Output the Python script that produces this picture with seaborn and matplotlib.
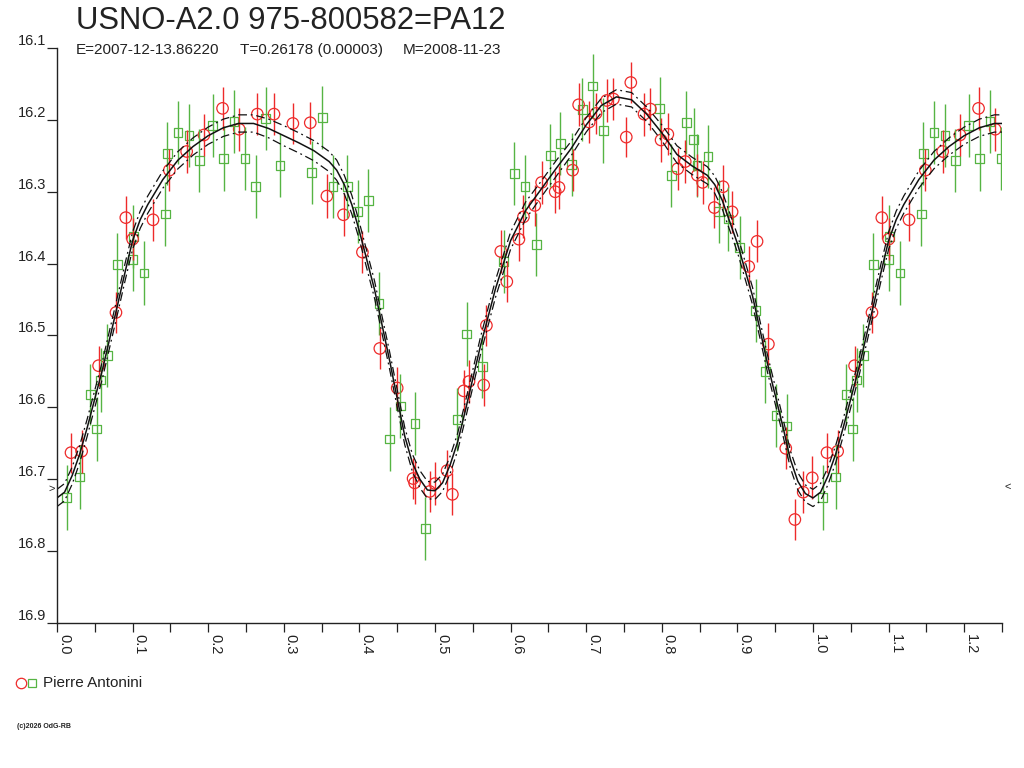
import numpy as np
import pandas as pd
import seaborn as sns
import matplotlib.pyplot as plt
from matplotlib.markers import MarkerStyle
from matplotlib.lines import Line2D
from matplotlib.ticker import MultipleLocator, FuncFormatter

RED = '#ee2a2a'
GREEN = '#56b443'
INK = '#222222'

title = 'USNO-A2.0 975-800582=PA12'
info = ['E=2007-12-13.86220', 'T=0.26178 (0.00003)', 'M=2008-11-23']
observer = 'Pierre Antonini'

# observations, phase 0..1 (red circles)
red_phase = [0.0185, 0.0326, 0.055, 0.078, 0.091, 0.100, 0.127, 0.1486, 0.1715, 0.1944,
             0.219, 0.241, 0.265, 0.287, 0.312, 0.335, 0.357, 0.379, 0.404, 0.427,
             0.450, 0.471, 0.473, 0.493, 0.500, 0.516, 0.523, 0.538, 0.545, 0.5644,
             0.568, 0.587, 0.595, 0.611, 0.617, 0.632, 0.641, 0.659, 0.664, 0.682,
             0.690, 0.704, 0.713, 0.727, 0.736, 0.753, 0.759, 0.7765, 0.785, 0.799,
             0.808, 0.821, 0.831, 0.847, 0.854, 0.8695, 0.881, 0.893, 0.915, 0.926,
             0.941, 0.964, 0.976, 0.987, 0.999]
red_mag = [16.663, 16.661, 16.542, 16.468, 16.336, 16.366, 16.339, 16.270, 16.244, 16.221,
           16.184, 16.213, 16.192, 16.192, 16.205, 16.204, 16.306, 16.332, 16.384, 16.518,
           16.573, 16.699, 16.705, 16.717, 16.706, 16.688, 16.721, 16.577, 16.564, 16.569,
           16.486, 16.383, 16.425, 16.366, 16.335, 16.319, 16.287, 16.300, 16.294, 16.270,
           16.179, 16.203, 16.191, 16.173, 16.171, 16.224, 16.148, 16.192, 16.185, 16.228,
           16.220, 16.268, 16.258, 16.277, 16.287, 16.322, 16.293, 16.328, 16.404, 16.369,
           16.512, 16.657, 16.756, 16.718, 16.698]
red_err = [0.028, 0.030, 0.028, 0.029, 0.030, 0.029, 0.029, 0.029, 0.030, 0.029,
           0.030, 0.030, 0.029, 0.029, 0.028, 0.029, 0.030, 0.030, 0.029, 0.029,
           0.029, 0.029, 0.030, 0.029, 0.030, 0.029, 0.029, 0.029, 0.030, 0.029,
           0.029, 0.030, 0.029, 0.030, 0.030, 0.029, 0.030, 0.029, 0.030, 0.029,
           0.030, 0.029, 0.029, 0.030, 0.029, 0.028, 0.029, 0.030, 0.029, 0.030,
           0.029, 0.029, 0.030, 0.029, 0.030, 0.029, 0.030, 0.029, 0.029, 0.029,
           0.029, 0.029, 0.029, 0.029, 0.030]

# observations, phase 0..1 (green squares)
green_phase = [0.0128, 0.030, 0.044, 0.0525, 0.058, 0.0666, 0.080, 0.100, 0.101, 0.115,
               0.143, 0.146, 0.160, 0.1746, 0.188, 0.206, 0.2205, 0.234, 0.2487, 0.263,
               0.276, 0.295, 0.337, 0.351, 0.365, 0.384, 0.398, 0.412, 0.426, 0.440,
               0.454, 0.4735, 0.487, 0.5295, 0.542, 0.5626, 0.591, 0.605, 0.619, 0.634,
               0.6526, 0.666, 0.681, 0.695, 0.7086, 0.7227, 0.797, 0.8126, 0.8324, 0.842,
               0.8466, 0.861, 0.875, 0.888, 0.903, 0.924, 0.937, 0.951, 0.965]
green_mag = [16.725, 16.697, 16.582, 16.630, 16.562, 16.528, 16.401, 16.394, 16.362, 16.413,
             16.331, 16.247, 16.218, 16.222, 16.257, 16.208, 16.254, 16.202, 16.254, 16.293,
             16.198, 16.264, 16.273, 16.197, 16.293, 16.293, 16.328, 16.312, 16.455, 16.644,
             16.598, 16.622, 16.769, 16.617, 16.498, 16.543, 16.397, 16.275, 16.293, 16.373,
             16.250, 16.233, 16.262, 16.186, 16.153, 16.215, 16.184, 16.277, 16.204, 16.227,
             16.264, 16.251, 16.328, 16.338, 16.378, 16.465, 16.550, 16.611, 16.626]
green_err = [0.045, 0.044, 0.043, 0.045, 0.044, 0.044, 0.044, 0.044, 0.044, 0.045,
             0.044, 0.044, 0.044, 0.044, 0.044, 0.044, 0.045, 0.044, 0.044, 0.044,
             0.044, 0.044, 0.044, 0.044, 0.044, 0.044, 0.044, 0.044, 0.044, 0.044,
             0.044, 0.044, 0.044, 0.044, 0.044, 0.044, 0.044, 0.044, 0.044, 0.044,
             0.044, 0.044, 0.044, 0.044, 0.045, 0.045, 0.044, 0.044, 0.044, 0.044,
             0.044, 0.044, 0.044, 0.044, 0.044, 0.044, 0.044, 0.044, 0.044]

# mean light curve and its envelope (read at the knots)
curve_phase = [0.00, 0.01, 0.02, 0.03, 0.04, 0.06, 0.08, 0.09, 0.10, 0.11,
               0.12, 0.14, 0.16, 0.18, 0.20, 0.22, 0.24, 0.26, 0.28, 0.30,
               0.32, 0.34, 0.36, 0.37, 0.38, 0.39, 0.40, 0.42, 0.44, 0.46,
               0.47, 0.48, 0.49, 0.50, 0.51, 0.52, 0.53, 0.54, 0.56, 0.58,
               0.60, 0.62, 0.64, 0.66, 0.68, 0.70, 0.72, 0.74, 0.76, 0.78,
               0.80, 0.82, 0.84, 0.86, 0.87, 0.88, 0.90, 0.92, 0.94, 0.96,
               0.97, 0.98, 0.99, 1.00]
curve_mag = [16.726, 16.718, 16.695, 16.665, 16.628, 16.548, 16.458, 16.412, 16.368, 16.339,
             16.318, 16.283, 16.256, 16.237, 16.222, 16.211, 16.205, 16.205, 16.212, 16.222,
             16.232, 16.243, 16.258, 16.270, 16.290, 16.318, 16.355, 16.436, 16.535, 16.640,
             16.677, 16.700, 16.715, 16.716, 16.705, 16.680, 16.648, 16.605, 16.515, 16.435,
             16.368, 16.326, 16.297, 16.268, 16.240, 16.207, 16.180, 16.168, 16.172, 16.192,
             16.218, 16.248, 16.264, 16.277, 16.290, 16.312, 16.372, 16.445, 16.540, 16.626,
             16.672, 16.703, 16.720, 16.726]
curve_sig = [0.012, 0.012, 0.012, 0.012, 0.012, 0.012, 0.012, 0.012, 0.012, 0.012,
             0.012, 0.012, 0.012, 0.012, 0.012, 0.012, 0.012, 0.012, 0.013, 0.014,
             0.014, 0.014, 0.014, 0.014, 0.013, 0.013, 0.012, 0.012, 0.012, 0.012,
             0.012, 0.012, 0.012, 0.012, 0.012, 0.012, 0.012, 0.012, 0.012, 0.012,
             0.012, 0.012, 0.011, 0.011, 0.010, 0.010, 0.010, 0.010, 0.010, 0.010,
             0.011, 0.012, 0.012, 0.012, 0.012, 0.012, 0.012, 0.012, 0.012, 0.012,
             0.012, 0.012, 0.012, 0.012]


def wrap(phase, *cols, upto=0.26):
    # repeat the first quarter of the cycle after phase 1
    df = pd.DataFrame({'phase': phase})
    for i, c in enumerate(cols):
        df[f'c{i}'] = c
    extra = df[df['phase'] <= upto].copy()
    extra['phase'] += 1.0
    return pd.concat([df, extra], ignore_index=True)


red = wrap(red_phase, red_mag, red_err).rename(columns={'c0': 'mag', 'c1': 'err'})
green = wrap(green_phase, green_mag, green_err).rename(columns={'c0': 'mag', 'c1': 'err'})
curve = wrap(curve_phase, curve_mag, curve_sig, upto=0.27).rename(columns={'c0': 'mag', 'c1': 'sig'})
curve = curve.drop_duplicates('phase').sort_values('phase')
curve['hi'] = curve['mag'] - curve['sig']
curve['lo'] = curve['mag'] + curve['sig']

sns.set_style('white')
plt.rcParams['font.family'] = ['Liberation Sans', 'DejaVu Sans']
plt.rcParams['text.color'] = INK

fig = plt.figure(figsize=(10.24, 7.68), dpi=100)
ax = fig.add_axes([57 / 1024, 1 - 623 / 768, 945 / 1024, 575 / 768])

# error bars
ax.vlines(green['phase'], green['mag'] - green['err'], green['mag'] + green['err'],
          colors=GREEN, lw=1.0)
ax.vlines(red['phase'], red['mag'] - red['err'], red['mag'] + red['err'],
          colors=RED, lw=1.0)

sns.scatterplot(data=green, x='phase', y='mag', ax=ax, color=GREEN,
                marker=MarkerStyle('s', fillstyle='none'), s=40, linewidth=0.9,
                legend=False)
sns.scatterplot(data=red, x='phase', y='mag', ax=ax, color=RED,
                marker=MarkerStyle('o', fillstyle='none'), s=68, linewidth=0.9,
                legend=False)

sns.lineplot(data=curve, x='phase', y='mag', ax=ax, color='#111111', lw=1.1,
             sort=False, estimator=None)
for col in ('hi', 'lo'):
    sns.lineplot(data=curve, x='phase', y=col, ax=ax, color='#111111', lw=0.9,
                 sort=False, estimator=None, linestyle=(0, (7, 3, 1.5, 3)))

ax.set_xlim(0, 1.25)
ax.set_ylim(16.9, 16.1)
ax.set(xlabel=None, ylabel=None)
ax.grid(False)
for s in ('top', 'right'):
    ax.spines[s].set_visible(False)
for s in ('left', 'bottom'):
    ax.spines[s].set_color(INK)
    ax.spines[s].set_linewidth(1.0)

ax.xaxis.set_major_locator(MultipleLocator(0.1))
ax.xaxis.set_minor_locator(MultipleLocator(0.05))
ax.xaxis.set_major_formatter(FuncFormatter(lambda v, p: f'{v:.1f}'))
ax.yaxis.set_major_locator(MultipleLocator(0.1))
ax.yaxis.set_major_formatter(FuncFormatter(lambda v, p: f'{v:.1f}'))
ax.tick_params(axis='x', which='both', direction='out', length=6.5, width=0.9,
               color=INK, labelsize=10.5, labelcolor=INK, pad=1.5, bottom=True)
ax.tick_params(axis='y', which='major', direction='out', length=7.5, width=0.9,
               color=INK, labelsize=10.5, labelcolor=INK, pad=0, left=True)
plt.setp(ax.get_xticklabels(), rotation=-90, ha='left', va='top')
plt.setp(ax.get_yticklabels(), va='bottom')

fig.text(76 / 1024, 1 - 29 / 768, title, fontsize=22.3, va='baseline', color=INK)
for xp, txt in zip((76, 240, 403), info):
    fig.text(xp / 1024, 1 - 54 / 768, txt, fontsize=11, va='baseline', color=INK)

fig.text(52 / 1024, 1 - 489 / 768, '>', fontsize=8, ha='center', va='center', color=INK)
fig.text(1008 / 1024, 1 - 487 / 768, '<', fontsize=8, ha='center', va='center', color=INK)

# legend
fig.add_artist(Line2D([21 / 1024], [1 - 683 / 768], transform=fig.transFigure,
                      marker='o', mfc='none', mec=RED, ms=7.5, mew=0.9, ls='none'))
fig.add_artist(Line2D([32 / 1024], [1 - 683 / 768], transform=fig.transFigure,
                      marker='s', mfc='none', mec=GREEN, ms=5.3, mew=0.9, ls='none'))
fig.text(43 / 1024, 1 - 687 / 768, observer, fontsize=11, va='baseline', color=INK)

fig.text(17 / 1024, 1 - 726 / 768, '(c)2026 OdG-RB', fontsize=5, va='center',
         weight='bold', color=INK)

fig.savefig('out.png', dpi=100)
